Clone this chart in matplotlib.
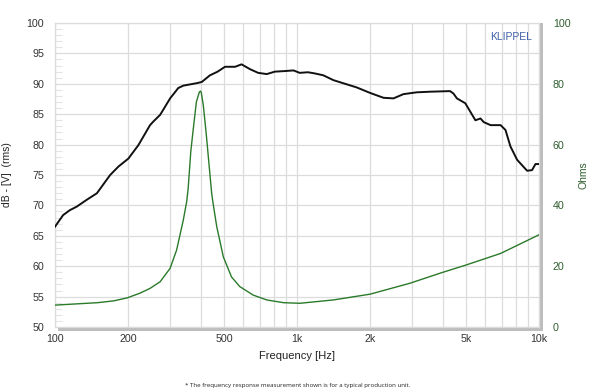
import numpy as np
import matplotlib
matplotlib.use("Agg")
import matplotlib.pyplot as plt
from matplotlib.patches import Rectangle

# SPL response (dB) vs frequency (Hz)
spl_freq = [100, 108, 115, 123, 135, 149, 158, 169, 183, 201, 221, 247, 255, 272, 299, 323,
            339, 385, 404, 437, 470, 504, 555, 590, 640, 691, 750, 810, 894, 967, 1026, 1110,
            1186, 1284, 1414, 1766, 2005, 2277, 2504, 2753, 3125, 3550, 4290, 4430, 4580,
            4960, 5460, 5730, 5910, 6310, 6940, 7270, 7620, 8120, 8930, 9360, 9670, 9980]
spl_db = [66.5, 68.4, 69.2, 69.8, 70.9, 72.0, 73.4, 75.0, 76.4, 77.7, 79.9, 83.2, 83.8, 84.9, 87.6, 89.3,
          89.7, 90.1, 90.3, 91.4, 92.0, 92.8, 92.8, 93.2, 92.4, 91.8, 91.6, 92.0, 92.1, 92.2, 91.8, 91.9,
          91.7, 91.4, 90.6, 89.4, 88.5, 87.7, 87.6, 88.3, 88.6, 88.7, 88.8, 88.4, 87.6,
          86.8, 84.0, 84.3, 83.7, 83.2, 83.2, 82.4, 79.7, 77.5, 75.7, 75.8, 76.8, 76.8]

# Impedance (Ohms) vs frequency (Hz)
imp_freq = [100, 150, 175, 199, 224, 247, 272, 299, 318, 339, 350, 355, 364, 373, 384, 395,
            399, 402, 410, 422, 437, 444, 449, 466, 496, 536, 580, 659, 750, 880, 1026,
            1414, 2005, 2930, 3900, 5000, 6940, 9980]
imp_ohm = [7.2, 8.0, 8.6, 9.6, 11.1, 12.7, 14.9, 19.3, 25.3, 35.2, 41.2, 45.5, 57.7, 65.4, 74.1, 77.3,
           77.6, 77.2, 73.0, 63.2, 50.0, 44.0, 41.2, 33.0, 23.1, 16.5, 13.3, 10.5, 8.9, 8.0, 7.8,
           8.9, 10.8, 14.4, 17.7, 20.4, 24.2, 30.3]

x_ticks = [100, 200, 500, 1000, 2000, 5000, 10000]
x_labels = ["100", "200", "500", "1k", "2k", "5k", "10k"]
left_ticks = list(range(50, 101, 5))
right_ticks = list(range(0, 101, 20))

plt.rcParams['font.family'] = ['Liberation Sans', 'DejaVu Sans']

fig = plt.figure(figsize=(6, 3.92), dpi=100)
ax = fig.add_axes([55/600, 1-327/392, (539-55)/600, (327-23)/392])
ax.set_xscale('log')
ax.set_xlim(100, 10000)
ax.set_ylim(50, 100)

grid_c = '#dcdcdc'
ax.set_xticks(x_ticks)
ax.set_xticklabels(x_labels)
minor = [f for d in (100, 1000) for f in [d*k for k in range(2, 10)]]
ax.set_xticks(minor, minor=True)
ax.xaxis.set_minor_formatter(plt.NullFormatter())
ax.grid(True, which='both', axis='x', color=grid_c, lw=0.9)
ax.set_yticks(left_ticks)
ax.set_yticks(list(range(50, 101)), minor=True)
ax.grid(True, which='major', axis='y', color=grid_c, lw=0.9)
ax.tick_params(axis='y', which='minor', direction='in', length=5, color='#e4e4e4', width=0.8)
ax.tick_params(axis='y', which='major', direction='in', length=0, labelsize=7.7, labelcolor='#333333', pad=8)
ax.tick_params(axis='x', which='both', length=0, labelsize=7.7, labelcolor='#333333', pad=5)
for s in ax.spines.values():
    s.set_color(grid_c)
    s.set_linewidth(0.9)

ax.plot(spl_freq, spl_db, color='#111111', lw=1.4, zorder=3)

ax2 = ax.twinx()
ax2.set_ylim(0, 100)
ax2.set_yticks(right_ticks)
ax2.tick_params(axis='y', length=0, labelsize=7.7, labelcolor='#2f5e2f', pad=10)
for s in ax2.spines.values():
    s.set_visible(False)
ax2.plot(imp_freq, imp_ohm, color='#2a7a2a', lw=1.0, zorder=3)

# shadow edges
ax.add_patch(Rectangle((1.0, -0.012), 0.008, 1.012, transform=ax.transAxes,
                       color='#bdbdbd', clip_on=False, zorder=1, lw=0))
ax.add_patch(Rectangle((0.006, -0.012), 1.002, 0.012, transform=ax.transAxes,
                       color='#bdbdbd', clip_on=False, zorder=1, lw=0))

ax.set_xlabel("Frequency [Hz]", fontsize=8, color='#222222', labelpad=5)
ax.set_ylabel("dB - [V]  (rms)", fontsize=7.5, color='#222222', labelpad=10)
ax2.set_ylabel("Ohms", fontsize=7.5, color='#2f5e2f', labelpad=6)

ax.text(0.985, 0.955, "KLIPPEL", transform=ax.transAxes, ha='right', va='center',
        fontsize=7.5, color='#3d5fa8')

fig.text(298/600, 1-385/392, "* The frequency response measurement shown is for a typical production unit.",
         ha='center', va='center', fontsize=4.4, color='#222222', family=['Open Sans', 'DejaVu Sans'])

fig.savefig("out.png", dpi=100)
